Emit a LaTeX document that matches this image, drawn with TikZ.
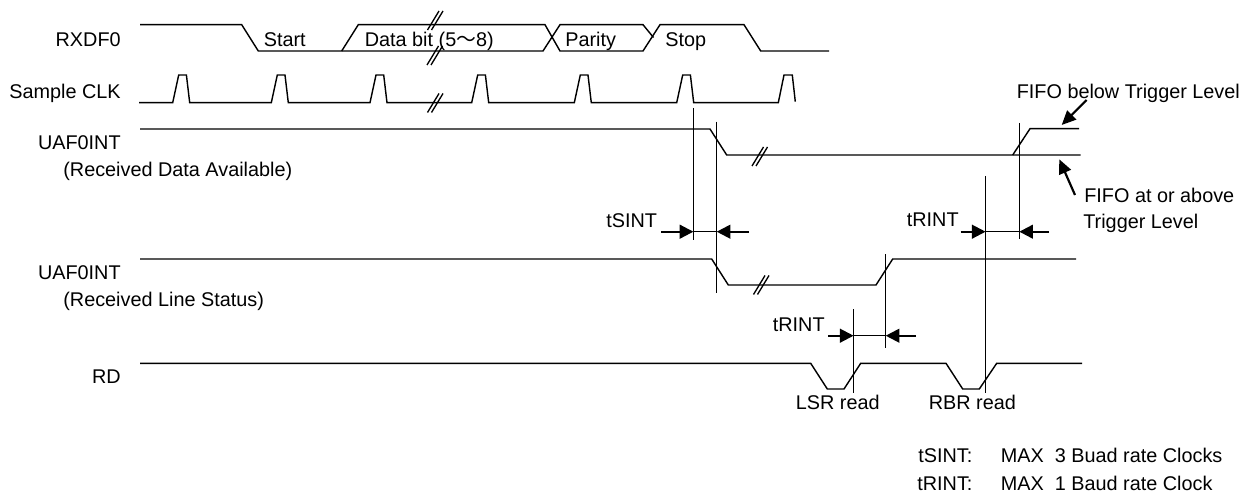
\documentclass[tikz,border=0pt]{standalone}
\usepackage{fontspec}
\setmainfont{Liberation Sans}
\newfontfamily\cjk{Noto Sans CJK JP}
\usetikzlibrary{arrows.meta,calc,positioning}
\tikzset{
  wave/.style={line width=0.85pt,line join=miter},
  guide/.style={line width=0.85pt},
  gap/.style={line width=0.7pt},
  lbl/.style={anchor=mid west,inner sep=0pt,font=\fontsize{11.9}{14}\selectfont},
  sig/.style={lbl,anchor=mid east},
  dimarrow/.style={line width=1.3pt,-{Triangle[length=8.2pt,width=8.2pt]}},
  callout/.style={line width=1.3pt,-{Triangle[length=8.6pt,width=7.6pt]}},
  brk/.style={line width=0.8pt}
}
\newcommand{\breakmark}[2]{%
  \draw[brk] (#1-5.5,#2+9.5)--(#1+6,#2-9.5);
  \draw[brk] (#1-1.5,#2+9.5)--(#1+10,#2-9.5);}
\begin{document}
\begin{tikzpicture}[x=0.6pt,y=-0.6pt]
\useasboundingbox (0,0) rectangle (1250,496);

\node[sig] (rxdf) at (121,41.8){RXDF0};
\node[sig] (sclk) at (121,94.2){Sample CLK};
\node[sig] (intda) at (121,145.5){UAF0INT};
\node[lbl] (intdatxt) at (63,172.5){(Received Data Available)};
\node[sig] (intls) at (121,275.5){UAF0INT};
\node[lbl] (intlstxt) at (63,302.5){(Received Line Status)};
\node[sig] (rd) at (121,379.5){RD};

% RXDF0
\draw[wave] (140,24.7)--(241.7,24.7)--(258.3,51)--(543,51)--(560,24.7)--(643,24.7)--(653.5,37.5);
\draw[wave] (341.7,51)--(358.3,24.7)--(545,24.7)--(560,51)--(643,51)--(660,24.7)--(744,24.7)--(760.7,51)--(829,51);
\node[lbl] (start) at (263.5,41.8){Start};
\node[lbl] (databit) at (364.5,41.8){Data bit (5{\cjk ～}8)};
\node[lbl] (parity) at (565,41.8){Parity};
\node[lbl] (stop) at (665,41.8){Stop};
\breakmark{433}{20.5}
\breakmark{432.5}{55.5}

% sample clock
\draw[wave] (139,102.7)
  \foreach \x in {172.7,271.3,370,471.7,574.3,676.7}{
    --(\x,102.7)--(\x+6,75)--(\x+13.7,75)--(\x+17,102.7)}
  --(778.3,102.7)--(784,75)--(792.3,75)--(795.3,101.7);
\breakmark{433}{103}

% UAF0INT, data available
\draw[wave] (140,129)--(710,129)--(726.7,155)--(1080.7,155);
\draw[wave] (1012.7,155)--(1030,128.7)--(1079,128.7);
\breakmark{757.5}{156.5}

% UAF0INT, line status
\draw[wave] (140,259)--(711.7,259)--(728.3,285)--(876,285)--(892.7,259)--(1076,259);
\breakmark{759}{285}

% RD
\draw[wave] (140,363.3)--(810.7,363.3)--(827.3,389)--(844,389)--(860.7,363.3)--(946,363.3)--(962.7,389)--(979.3,389)--(996.7,363.3)--(1082,363.3);
\node[lbl] (lsr) at (795.5,405.5){LSR read};
\node[lbl] (rbr) at (928.5,405.5){RBR read};

% timing guides
\draw[guide] (693.4,108)--(693.4,240);
\draw[guide] (716.7,121.7)--(716.7,293.3);
\draw[guide] (885.7,254)--(885.7,348);
\draw[guide] (853.6,309)--(853.6,393);
\draw[guide] (985.6,176)--(985.6,393);
\draw[guide] (1019.3,123)--(1019.3,239);

\coordinate (sintl) at (693.4,231.7);
\coordinate (sintr) at (716.7,231.7);
\coordinate (rintal) at (853.6,335.7);
\coordinate (rintar) at (885.7,335.7);
\coordinate (rintbl) at (985.6,231.7);
\coordinate (rintbr) at (1019.3,231.7);
\draw[gap] (sintl)--(sintr);
\draw[gap] (rintal)--(rintar);
\draw[gap] (rintbl)--(rintbr);
\draw[dimarrow] (661,231.7)--(sintl);
\draw[dimarrow] (749,231.7)--(sintr);
\draw[dimarrow] (828,335.7)--(rintal);
\draw[dimarrow] (916,335.7)--(rintar);
\draw[dimarrow] (960.7,231.7)--(rintbl);
\draw[dimarrow] (1049,231.7)--(rintbr);
\node[lbl] (tsint) at (606,223.5){tSINT};
\node[lbl] (trinta) at (772.5,327.5){tRINT};
\node[lbl] (trintb) at (906.5,222.5){tRINT};

% FIFO notes
\node[lbl] (below) at (1016.5,94.2){FIFO below Trigger Level};
\node[lbl] (above) at (1084,198.5){FIFO at or above};
\node[lbl] (abovetxt) at (1083,224.2){Trigger Level};
\coordinate (belowend) at (1061.7,125);
\coordinate (aboveend) at (1059.3,159.3);
\draw[callout] (1086.7,100)--(belowend);
\draw[callout] (1075,195)--(aboveend);

% notes
\node[lbl] (nsint) at (918,457.8){tSINT:};
\node[lbl] (nsintv) at (1000.5,457.8){MAX\ \ 3 Buad rate Clocks};
\node[lbl] (nrint) at (917,485.8){tRINT:};
\node[lbl] (nrintv) at (1000.5,485.8){MAX\ \ 1 Baud rate Clock};
\end{tikzpicture}
\end{document}
